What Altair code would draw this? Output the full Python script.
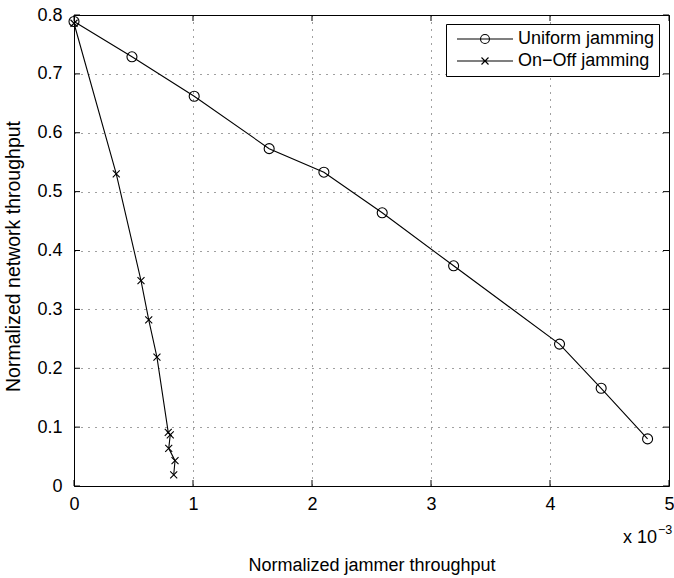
import altair as alt
import pandas as pd

# ---- data (x in units of 1e-3) ----
series_names = ["Uniform jamming", "On\u2212Off jamming"]
uniform_x = [0.0, 0.487, 1.01, 1.64, 2.10, 2.59, 3.19, 4.08, 4.43, 4.82]
uniform_y = [0.789, 0.729, 0.662, 0.573, 0.533, 0.464, 0.374, 0.241, 0.166, 0.080]
onoff_x = [0.0, 0.355, 0.563, 0.628, 0.697, 0.792, 0.809, 0.796, 0.849, 0.838]
onoff_y = [0.786, 0.530, 0.349, 0.282, 0.219, 0.091, 0.087, 0.064, 0.043, 0.019]
x_ticks = [0, 1, 2, 3, 4, 5]
y_ticks = [0, 0.1, 0.2, 0.3, 0.4, 0.5, 0.6, 0.7, 0.8]
exp_base = ["x 10"]
exp_power = ["\u22123"]

rows = []
for name, xs, ys in [(series_names[0], uniform_x, uniform_y), (series_names[1], onoff_x, onoff_y)]:
    for i, (a, b) in enumerate(zip(xs, ys)):
        rows.append({"series": name, "x": a, "y": b, "order": i})
df = pd.DataFrame(rows)

W, H = 595, 471
FONT = "Liberation Sans"

xscale = alt.Scale(domain=[0, 5], nice=False, zero=False)
yscale = alt.Scale(domain=[0, 0.8], nice=False, zero=False)

xaxis = alt.Axis(values=x_ticks, format="d", title="Normalized jammer throughput",
                 labelFontSize=18, labelFont=FONT, labelColor="black", labelFlush=False,
                 labelOverlap=False, labelBaseline="alphabetic", labelPadding=23.5,
                 ticks=False, tickSize=0, domain=False, grid=True,
                 gridColor="black", gridDash=[1, 6], gridOpacity=0.75, gridWidth=1,
                 titleFontSize=18, titleFont=FONT, titleFontWeight="normal", titleColor="black",
                 titleBaseline="alphabetic", titleY=84.7)
yaxis = alt.Axis(values=y_ticks, format=".1~f", title="Normalized network throughput",
                 labelFontSize=18, labelFont=FONT, labelColor="black", labelFlush=False,
                 labelOverlap=False, labelAlign="right", labelBaseline="middle", labelPadding=12,
                 ticks=False, tickSize=0, domain=False, grid=True,
                 gridColor="black", gridDash=[1, 6], gridOpacity=0.75, gridWidth=1,
                 titleFontSize=19.5, titleFont=FONT, titleFontWeight="normal", titleColor="black",
                 titleBaseline="alphabetic", titleAngle=270, titleX=-55, titleY=241,
                 titleAlign="center")

base = alt.Chart(df)

lines = base.mark_line(color="black", strokeWidth=1.1).encode(
    x=alt.X("x:Q", scale=xscale, axis=xaxis),
    y=alt.Y("y:Q", scale=yscale, axis=yaxis),
    detail="series:N",
    order="order:Q",
)

x_path = "M-0.7,-0.7L0.7,0.7M-0.7,0.7L0.7,-0.7"
points = base.mark_point(filled=False, color="black", size=100, strokeWidth=1.1, opacity=1).encode(
    x=alt.X("x:Q", scale=xscale, axis=xaxis),
    y=alt.Y("y:Q", scale=yscale, axis=yaxis),
    shape=alt.Shape("series:N", scale=alt.Scale(domain=series_names, range=["circle", x_path]), legend=None),
)

leg_circle = "M-1,0L1,0M0.16,0A0.16,0.16,0,1,1,-0.16,0A0.16,0.16,0,1,1,0.16,0"
leg_x = "M-1,0L1,0M-0.125,-0.125L0.125,0.125M-0.125,0.125L0.125,-0.125"
legend = alt.Legend(title=None, orient="none", legendX=372, legendY=9, direction="vertical",
                    symbolSize=3136, symbolStrokeWidth=1.1, symbolStrokeColor="black",
                    symbolFillColor="transparent", symbolOpacity=1,
                    labelFontSize=18, labelFont=FONT, labelColor="black", labelOffset=4,
                    symbolOffset=6, padding=4, strokeColor="black", fillColor="white",
                    clipHeight=22, rowPadding=0, cornerRadius=0, labelLimit=400)
legend_layer = base.mark_point(filled=False, color="black", opacity=0).encode(
    x=alt.X("x:Q", scale=xscale, axis=xaxis),
    y=alt.Y("y:Q", scale=yscale, axis=yaxis),
    shape=alt.Shape("series:N", scale=alt.Scale(domain=series_names, range=[leg_circle, leg_x]), legend=legend),
)

xt = alt.Chart(pd.DataFrame({"t": x_ticks}))
yt = alt.Chart(pd.DataFrame({"t": y_ticks}))
tick_b = xt.mark_rule(color="black", strokeWidth=1).encode(
    x=alt.X("t:Q", scale=xscale, axis=xaxis), y=alt.value(H), y2=alt.value(H - 6))
tick_t = xt.mark_rule(color="black", strokeWidth=1).encode(
    x=alt.X("t:Q", scale=xscale, axis=xaxis), y=alt.value(0), y2=alt.value(6))
tick_l = yt.mark_rule(color="black", strokeWidth=1).encode(
    y=alt.Y("t:Q", scale=yscale, axis=yaxis), x=alt.value(0), x2=alt.value(6))
tick_r = yt.mark_rule(color="black", strokeWidth=1).encode(
    y=alt.Y("t:Q", scale=yscale, axis=yaxis), x=alt.value(W), x2=alt.value(W - 6))

exp1 = alt.Chart(pd.DataFrame({"t": exp_base})).mark_text(
    align="right", baseline="alphabetic", fontSize=18, font=FONT, color="black").encode(
    x=alt.value(583), y=alt.value(528.3), text="t:N")
exp2 = alt.Chart(pd.DataFrame({"t": exp_power})).mark_text(
    align="left", baseline="alphabetic", fontSize=12.5, font=FONT, color="black").encode(
    x=alt.value(584), y=alt.value(518.5), text="t:N")

chart = alt.layer(lines, points, legend_layer, tick_b, tick_t, tick_l, tick_r, exp1, exp2).resolve_scale(
    shape="independent"
).properties(
    width=W, height=H,
    autosize=alt.AutoSizeParams(type="none"),
    padding={"left": 74, "top": 15, "right": 5, "bottom": 92},
    background="white",
).configure_view(stroke="black", strokeWidth=1)

chart.save("out.html", embed_options={"renderer": "svg", "actions": False})
